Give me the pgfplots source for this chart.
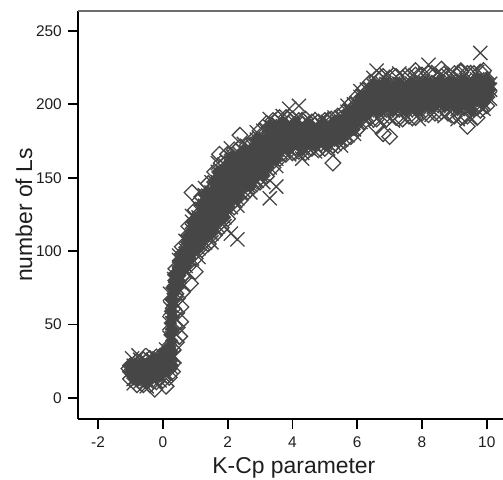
\documentclass[border=0pt]{standalone}
\usepackage{pgfplots}
\usepackage{pgfplotstable}
\pgfplotsset{compat=1.18}
\usepackage{fontspec}
\setmainfont{Liberation Sans}
\definecolor{mk}{RGB}{70,70,70}
\definecolor{topline}{RGB}{110,110,110}
\definecolor{txt}{RGB}{30,30,30}

\pgfplotstableread{
x a b c d e f g
-1.0 13 18 22 nan nan nan nan
-0.8 9 13 17 21 25 nan nan
-0.6 9 13 18 22 26 nan nan
-0.4 9 14 18 23 27 nan nan
-0.2 11 15 20 24 28 nan nan
0.0 12 18 24 30 nan nan nan
0.2 14 20 26 32 nan nan nan
0.4 71 75 80 84 88 nan nan
0.6 83 88 93 98 103 nan nan
0.8 90 95 100 106 111 117 nan
1.0 95 102 108 115 121 128 nan
1.2 101 107 113 119 125 131 137
1.4 105 112 119 126 132 139 146
1.6 111 118 125 133 140 147 154
1.8 116 123 131 138 146 153 160
2.0 122 130 137 144 151 158 166
2.2 130 137 143 150 156 162 169
2.4 135 142 150 157 164 171 nan
2.6 140 146 153 159 166 172 nan
2.8 144 150 157 163 170 176 nan
3.0 147 154 161 168 175 182 nan
3.2 151 157 163 169 175 181 187
3.4 157 163 170 176 183 189 nan
3.6 163 169 174 180 185 191 nan
3.8 166 172 179 185 191 nan nan
4.0 167 173 178 184 190 nan nan
4.2 168 173 179 184 189 nan nan
4.4 167 173 178 184 190 nan nan
4.6 170 174 179 184 188 nan nan
4.8 169 175 179 183 188 nan nan
5.0 170 174 180 184 189 nan nan
5.2 171 176 181 185 190 nan nan
5.4 172 177 182 187 192 nan nan
5.6 175 180 185 190 195 nan nan
5.8 178 184 189 194 200 nan nan
6.0 183 189 194 199 205 nan nan
6.2 188 194 199 204 210 nan nan
6.4 191 197 203 209 215 nan nan
6.6 190 198 205 211 218 nan nan
6.8 191 199 205 211 219 nan nan
7.0 192 199 204 211 218 nan nan
7.2 191 200 205 210 219 nan nan
7.4 190 199 206 211 218 nan nan
7.6 192 199 205 212 219 nan nan
7.8 191 200 204 211 220 nan nan
8.0 194 201 207 213 220 nan nan
8.2 193 202 207 212 221 nan nan
8.4 194 201 208 213 220 nan nan
8.6 195 202 207 213 219 nan nan
8.8 194 201 206 212 220 nan nan
9.0 192 200 207 213 221 nan nan
9.2 191 201 206 213 222 nan nan
9.4 192 200 207 212 221 nan nan
9.6 197 204 209 214 221 nan nan
9.8 196 204 210 215 222 nan nan
10.0 199 205 211 217 nan nan nan
}\Dtab

\pgfplotstableread{
x a b c d e f g
-0.9 10 13 18 22 nan nan nan
-0.7 11 15 19 23 26 nan nan
-0.5 8 11 16 20 25 nan nan
-0.3 12 17 21 26 29 nan nan
-0.1 12 15 19 23 27 nan nan
0.1 16 22 28 33 nan nan nan
0.5 79 84 89 94 97 nan nan
0.7 86 90 96 101 107 nan nan
0.9 95 101 108 114 120 124 nan
1.1 96 102 109 116 123 130 nan
1.3 106 113 119 125 131 138 143
1.5 106 112 119 126 133 140 147
1.7 117 124 132 139 147 154 160
1.9 117 123 130 137 145 152 159
2.1 130 137 144 150 157 164 170
2.3 131 136 142 148 154 160 166
2.5 141 148 155 161 168 173 nan
2.7 140 145 151 158 164 170 nan
2.9 148 155 162 169 176 181 nan
3.1 147 152 158 164 170 176 182
3.3 157 164 171 178 185 190 nan
3.5 158 163 169 175 181 187 nan
3.7 169 175 182 188 192 nan nan
3.9 166 170 176 181 187 nan nan
4.1 170 176 181 187 190 nan nan
4.3 167 170 176 181 187 nan nan
4.5 170 176 181 187 190 nan nan
4.7 168 172 177 181 186 nan nan
4.9 172 177 181 186 190 nan nan
5.1 170 173 178 183 188 nan nan
5.3 173 178 183 188 191 nan nan
5.5 172 176 181 186 191 nan nan
5.7 179 184 190 195 199 nan nan
5.9 180 183 189 194 200 nan nan
6.1 188 194 199 205 209 nan nan
6.3 189 193 199 204 210 nan nan
6.5 195 201 207 213 218 nan nan
6.7 189 196 202 208 214 nan nan
6.9 196 202 208 214 220 nan nan
7.1 189 196 202 208 214 nan nan
7.3 196 202 208 214 221 nan nan
7.5 190 196 202 208 214 nan nan
7.7 196 202 208 214 220 nan nan
7.9 190 196 202 208 214 nan nan
8.1 199 204 210 215 221 nan nan
8.3 193 199 204 210 215 nan nan
8.5 199 204 210 215 222 nan nan
8.7 192 199 204 210 215 nan nan
8.9 199 204 210 215 221 nan nan
9.1 190 197 203 210 216 nan nan
9.3 197 203 210 216 222 nan nan
9.5 191 197 203 210 216 nan nan
9.7 201 206 212 217 222 nan nan
9.9 197 201 206 212 217 nan nan
10.1 204 210 214 nan nan nan nan
}\Xtab

\pgfplotstableread{
x y
0.42 38
0.44 48
0.43 58
0.45 68
0.47 78
0.52 42
0.55 52
0.56 62
0.60 72
0.65 82
0.31 33
0.32 61
0.32 24
0.30 18
0.90 140
2.38 179
1.75 166
5.25 160
6.80 180
7.00 178
6.60 185
9.70 191
9.40 185
7.80 223
8.60 224
9.20 223
9.90 223
0.85 78
1.00 86
0.10 8
-0.25 6
-1.05 20
}\Dext

\pgfplotstableread{
x y
0.26 31
0.27 39
0.28 47
0.29 55
0.30 63
0.32 71
0.36 79
0.24 27
0.21 35
0.22 43
0.23 51
0.24 59
0.26 67
0.29 75
0.34 84
0.30 22
0.15 25
0.05 20
-0.9 16
-0.7 14
-0.5 20
-0.3 16
}\Dcore

\pgfplotstableread{
x y
0.30 41
0.29 51
0.31 71
0.21 41
0.20 51
0.23 61
0.22 71
0.37 44
0.38 54
0.39 64
0.40 74
0.35 81
0.35 28
0.25 21
9.80 235
3.90 197
4.20 199
6.60 223
8.20 227
3.50 144
3.30 136
2.10 112
2.30 108
4.30 163
-0.95 27
-0.75 29
}\Xext

\begin{document}
\begin{tikzpicture}
\begin{axis}[
  at={(0,0)}, anchor=south west,
  scale only axis, width=425bp, height=408bp,
  xmin=-2.62, xmax=10.5, ymin=-14.3, ymax=263.6,
  axis x line*=bottom, axis y line*=left,
  x axis line style={-, line width=2.4bp, black},
  y axis line style={-, line width=2.4bp, black},
  xtick={-2,0,2,4,6,8,10}, ytick={0,50,100,150,200,250},
  tick align=outside, major tick length=10bp,
  every tick/.style={black, line width=1.8bp},
  /pgf/number format/assume math mode=true,
  tick label style={font=\fontsize{15.5}{17}\selectfont, text=txt},
  xticklabel style={anchor=north, inner sep=0pt, yshift=-8bp},
  yticklabel style={anchor=east, inner sep=0pt, xshift=-6bp},
  xlabel={K-Cp parameter}, ylabel={number of Ls},
  label style={font=\fontsize{23}{26}\selectfont, text=txt},
  xlabel style={at={(axis description cs:0.508,-0.1348)}, anchor=base},
  ylabel style={at={(axis description cs:-0.1082,0.5)}, anchor=base},
  dm/.style={only marks, mark=square, mark size=5.5bp, mk, line width=1.3bp, mark options={rotate=45, solid}},
  df/.style={only marks, mark=square*, mark size=4.6bp, mk, mark options={rotate=45, solid, draw=mk, fill=mk}},
  xm/.style={only marks, mark=x, mark size=10bp, mk, line width=1.3bp, mark options={solid}},
]
% filled core under the outlines
\pgfplotsinvokeforeach{b,c,d}{
  \addplot[df] table[x=x, y=#1] {\Dtab};
  \addplot[df] table[x=x, y=#1] {\Xtab};
}
\addplot[df, restrict x to domain=0.7:3.7] table[x=x, y=e] {\Dtab};
\addplot[df, restrict x to domain=0.8:3.6] table[x=x, y=e] {\Xtab};
\addplot[df, restrict x to domain=1.1:2.3] table[x=x, y=f] {\Dtab};
\addplot[df, restrict x to domain=1.2:2.4] table[x=x, y=f] {\Xtab};
\addplot[df] table[x=x, y=y] {\Dcore};
% outlined marks
\pgfplotsinvokeforeach{a,b,c,d,e,f,g}{
  \addplot[dm] table[x=x, y=#1] {\Dtab};
}
\pgfplotsinvokeforeach{a,b,c,d,e,f,g}{
  \addplot[xm] table[x=x, y=#1] {\Xtab};
}
\addplot[dm] table[x=x, y=y] {\Dext};
\addplot[xm] table[x=x, y=y] {\Xext};
\draw[topline, line width=2bp] (rel axis cs:0,1) -- (rel axis cs:1,1);
\end{axis}
\pgfresetboundingbox
\path (-78bp,-61bp) rectangle (425bp,419bp);
\end{tikzpicture}
\end{document}
